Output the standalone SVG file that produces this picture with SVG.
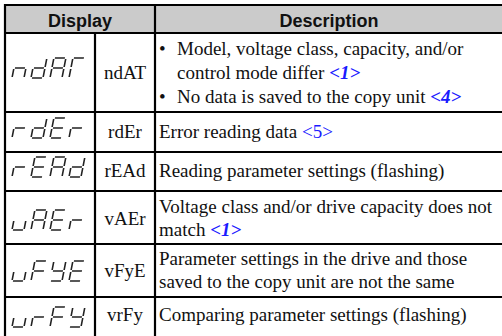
<svg xmlns="http://www.w3.org/2000/svg" xmlns:xlink="http://www.w3.org/1999/xlink" width="502" height="336" viewBox="0 0 502 336">
<style>
.hd{font-family:"Liberation Sans",Arial,sans-serif;font-weight:bold;font-size:18px;fill:#111}
.tx{font-family:"Liberation Serif","Times New Roman",serif;font-size:19px;fill:#111}
.ref{fill:#1a1aff;font-weight:bold;font-style:italic}
.ref2{fill:#1a1aff}
.ln{stroke:#000;stroke-width:2.2;fill:none}
.seg{stroke:#222;stroke-width:1.6;fill:none}
</style>
<defs>
<path id="ch-n" class="seg" transform="skewX(-11)" d="M1,-10H11M0,-9V-1M12,-9V-1"/>
<path id="ch-d" class="seg" transform="skewX(-11)" d="M12,-19V-11M12,-9V-1M1,0H11M0,-9V-1M1,-10H11"/>
<path id="ch-A" class="seg" transform="skewX(-11)" d="M1,-20H11M12,-19V-11M12,-9V-1M0,-9V-1M0,-19V-11M1,-10H11"/>
<path id="ch-T" class="seg" transform="skewX(-11)" d="M1,-20H11M0,-19V-11M0,-9V-1"/>
<path id="ch-r" class="seg" transform="skewX(-11)" d="M1,-10H11M0,-9V-1"/>
<path id="ch-E" class="seg" transform="skewX(-11)" d="M1,-20H11M1,0H11M0,-9V-1M0,-19V-11M1,-10H11"/>
<path id="ch-u" class="seg" transform="skewX(-11)" d="M0,-9V-1M12,-9V-1M1,0H11"/>
<path id="ch-F" class="seg" transform="skewX(-11)" d="M1,-20H11M0,-9V-1M0,-19V-11M1,-10H11"/>
<path id="ch-y" class="seg" transform="skewX(-11)" d="M12,-19V-11M12,-9V-1M1,0H11M0,-19V-11M1,-10H11"/>
</defs>
<rect x="5" y="5" width="500" height="28" fill="#cbcbcb"/>
<g id="connectors">
<path class="ln" d="M5,4V336M4,5H502M4,33H502M155,5V336M95,33V336M5,112H502M5,152H502M5,191H502M5,244H502M5,297H502"/>
</g>
<g id="header">
<text class="hd" x="80" y="26.5" text-anchor="middle">Display</text>
<text class="hd" x="329" y="26.5" text-anchor="middle">Description</text>
</g>
<g id="row-ndAT">
<use xlink:href="#ch-n" x="12" y="78"/><use xlink:href="#ch-d" x="31" y="78"/><use xlink:href="#ch-A" x="50" y="78"/><use xlink:href="#ch-T" x="69" y="78"/>
<text class="tx" x="125" y="79" text-anchor="middle">ndAT</text>
<text class="tx" x="159" y="55">•</text>
<text class="tx" x="177" y="55">Model, voltage class, capacity, and/or</text>
<text class="tx" x="177" y="79">control mode differ <tspan class="ref">&lt;1&gt;</tspan></text>
<text class="tx" x="159" y="103">•</text>
<text class="tx" x="177" y="103">No data is saved to the copy unit <tspan class="ref">&lt;4&gt;</tspan></text>
</g>
<g id="row-rdEr">
<use xlink:href="#ch-r" x="12" y="138"/><use xlink:href="#ch-d" x="31" y="138"/><use xlink:href="#ch-E" x="50" y="138"/><use xlink:href="#ch-r" x="69" y="138"/>
<text class="tx" x="125" y="138" text-anchor="middle">rdEr</text>
<text class="tx" x="159" y="138">Error reading data <tspan class="ref2">&lt;5&gt;</tspan></text>
</g>
<g id="row-rEAd">
<use xlink:href="#ch-r" x="12" y="177"/><use xlink:href="#ch-E" x="31" y="177"/><use xlink:href="#ch-A" x="50" y="177"/><use xlink:href="#ch-d" x="69" y="177"/>
<text class="tx" x="125" y="177" text-anchor="middle">rEAd</text>
<text class="tx" x="159" y="177">Reading parameter settings (flashing)</text>
</g>
<g id="row-vAEr">
<use xlink:href="#ch-u" x="12" y="230"/><use xlink:href="#ch-A" x="31" y="230"/><use xlink:href="#ch-E" x="50" y="230"/><use xlink:href="#ch-r" x="69" y="230"/>
<text class="tx" x="125" y="225" text-anchor="middle">vAEr</text>
<text class="tx" x="159" y="213">Voltage class and/or drive capacity does not</text>
<text class="tx" x="159" y="236">match <tspan class="ref">&lt;1&gt;</tspan></text>
</g>
<g id="row-vFyE">
<use xlink:href="#ch-u" x="12" y="281"/><use xlink:href="#ch-F" x="31" y="281"/><use xlink:href="#ch-y" x="50" y="281"/><use xlink:href="#ch-E" x="69" y="281"/>
<text class="tx" x="125" y="277" text-anchor="middle">vFyE</text>
<text class="tx" x="159" y="265">Parameter settings in the drive and those</text>
<text class="tx" x="159" y="288">saved to the copy unit are not the same</text>
</g>
<g id="row-vrFy">
<use xlink:href="#ch-u" x="12" y="327"/><use xlink:href="#ch-r" x="31" y="327"/><use xlink:href="#ch-F" x="50" y="327"/><use xlink:href="#ch-y" x="69" y="327"/>
<text class="tx" x="125" y="321" text-anchor="middle">vrFy</text>
<text class="tx" x="159" y="321">Comparing parameter settings (flashing)</text>
</g>
</svg>
